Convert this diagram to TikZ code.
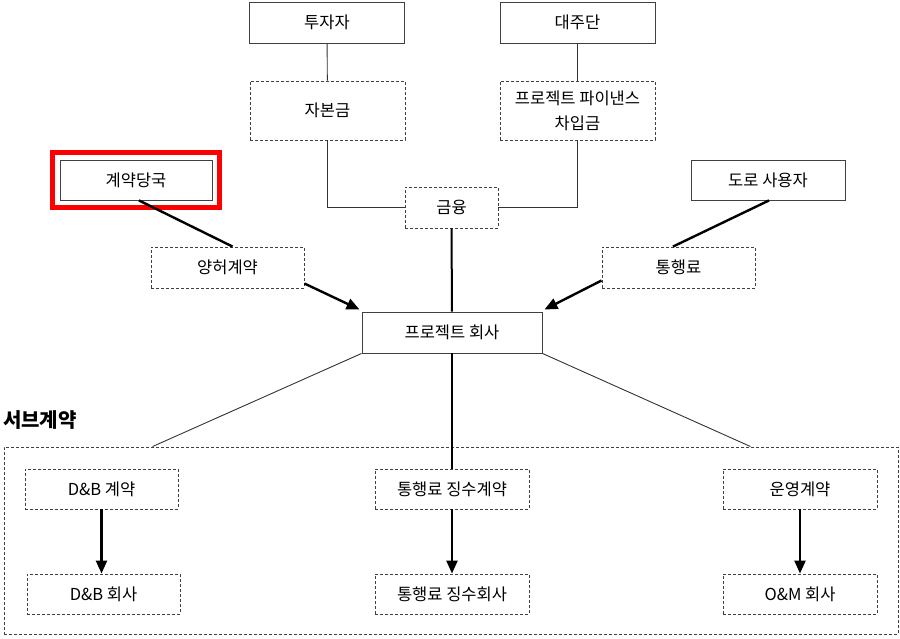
\documentclass[tikz,border=0pt]{standalone}
\usepackage{fontspec}
\setmainfont{Noto Sans CJK KR}
\usetikzlibrary{arrows.meta,calc,fit}
\begin{document}
\begin{tikzpicture}[x=1pt,y=-1pt,
  solidbox/.style={draw=black!75, line width=0.9pt, minimum width=155pt, minimum height=41pt, inner sep=2pt, font=\fontsize{16.5}{25}\selectfont, align=center},
  dashbox/.style={solidbox, dash pattern=on 3pt off 2pt},
  thinline/.style={draw=black!80, line width=0.9pt},
  thickline/.style={draw=black, line width=2.4pt},
  arr/.style={thickline, -{Triangle[length=13pt,width=11pt]}}]
\useasboundingbox (0,0) rectangle (900,638);
% top
\node[solidbox] (inv) at (327,22.5) {투자자};
\node[solidbox] (lend) at (577.5,22.5) {대주단};
\node[dashbox, minimum height=59pt] (cap) at (327.5,110.5) {자본금};
\node[dashbox, minimum height=59pt] (loan) at (577.5,110.5) {프로젝트 파이낸스\\차입금};
\node[dashbox, minimum width=93pt] (fin) at (451.5,207.5) {금융};
\node[solidbox, minimum width=152pt, minimum height=40pt] (auth) at (136,180) {계약당국};
\node[draw=red, line width=5pt, fit=(auth), inner sep=7.5pt] (hl) {};
\node[solidbox, minimum width=154pt, minimum height=40pt] (user) at (768,180) {도로 사용자};
\node[dashbox, minimum width=153pt] (conc) at (227.5,267.5) {양허계약};
\node[dashbox, minimum width=153pt] (toll) at (678.5,267.5) {통행료};
\node[solidbox, minimum width=180pt] (pc) at (452,332.5) {프로젝트 회사};
% sub contracts
\node[anchor=west, font=\fontsize{20}{24}\selectfont\bfseries, inner sep=0pt] (sublbl) at (3,420) {서브계약};
\node[draw=black!75, line width=0.9pt, dash pattern=on 3pt off 2pt, minimum width=894pt, minimum height=187pt, inner sep=0pt] (sub) at (451,540.5) {};
\node[dashbox, minimum width=153pt, minimum height=40pt] (dbk) at (101.5,489) {D\&B 계약};
\node[dashbox, minimum width=153pt, minimum height=40pt] (dbc) at (103.5,594) {D\&B 회사};
\node[dashbox, minimum width=154pt, minimum height=40pt] (tck) at (452,489) {통행료 징수계약};
\node[dashbox, minimum width=154pt, minimum height=40pt] (tcc) at (452,594) {통행료 징수회사};
\node[dashbox, minimum width=154pt, minimum height=40pt] (omk) at (800,489) {운영계약};
\node[dashbox, minimum width=154pt, minimum height=40pt] (omc) at (800,594) {O\&M 회사};
% connectors
\draw[thinline] (inv) -- (cap);
\draw[thinline] (lend) -- (loan);
\draw[thinline] (cap.south) |- (fin.west);
\draw[thinline] (loan.south) |- (fin.east);
\draw[thickline, line width=2pt] (fin) -- (pc);
\draw[thickline] ($(auth.south)+(3,0)$) -- ($(conc.north)+(5,0)$);
\draw[arr] ($(conc.east)+(0,16)$) -- ($(pc.north west)+(-2,-2)$);
\draw[thickline] ($(user.south)+(1,0)$) -- ($(toll.north)+(-5.5,0)$);
\draw[arr] ($(toll.west)+(0,13)$) -- ($(pc.north east)+(2,-2)$);
\draw[thinline] (pc.south west) -- ($(sub.north west)+(149,0)$);
\draw[thinline] (pc.south east) -- ($(sub.north west)+(747,0)$);
\draw[thickline, line width=2pt] (pc) -- (tck);
\draw[arr] (dbk.south) -- (dbk.south |- dbc.north);
\draw[arr] (tck) -- (tcc);
\draw[arr] (omk) -- (omc);
\end{tikzpicture}
\end{document}
